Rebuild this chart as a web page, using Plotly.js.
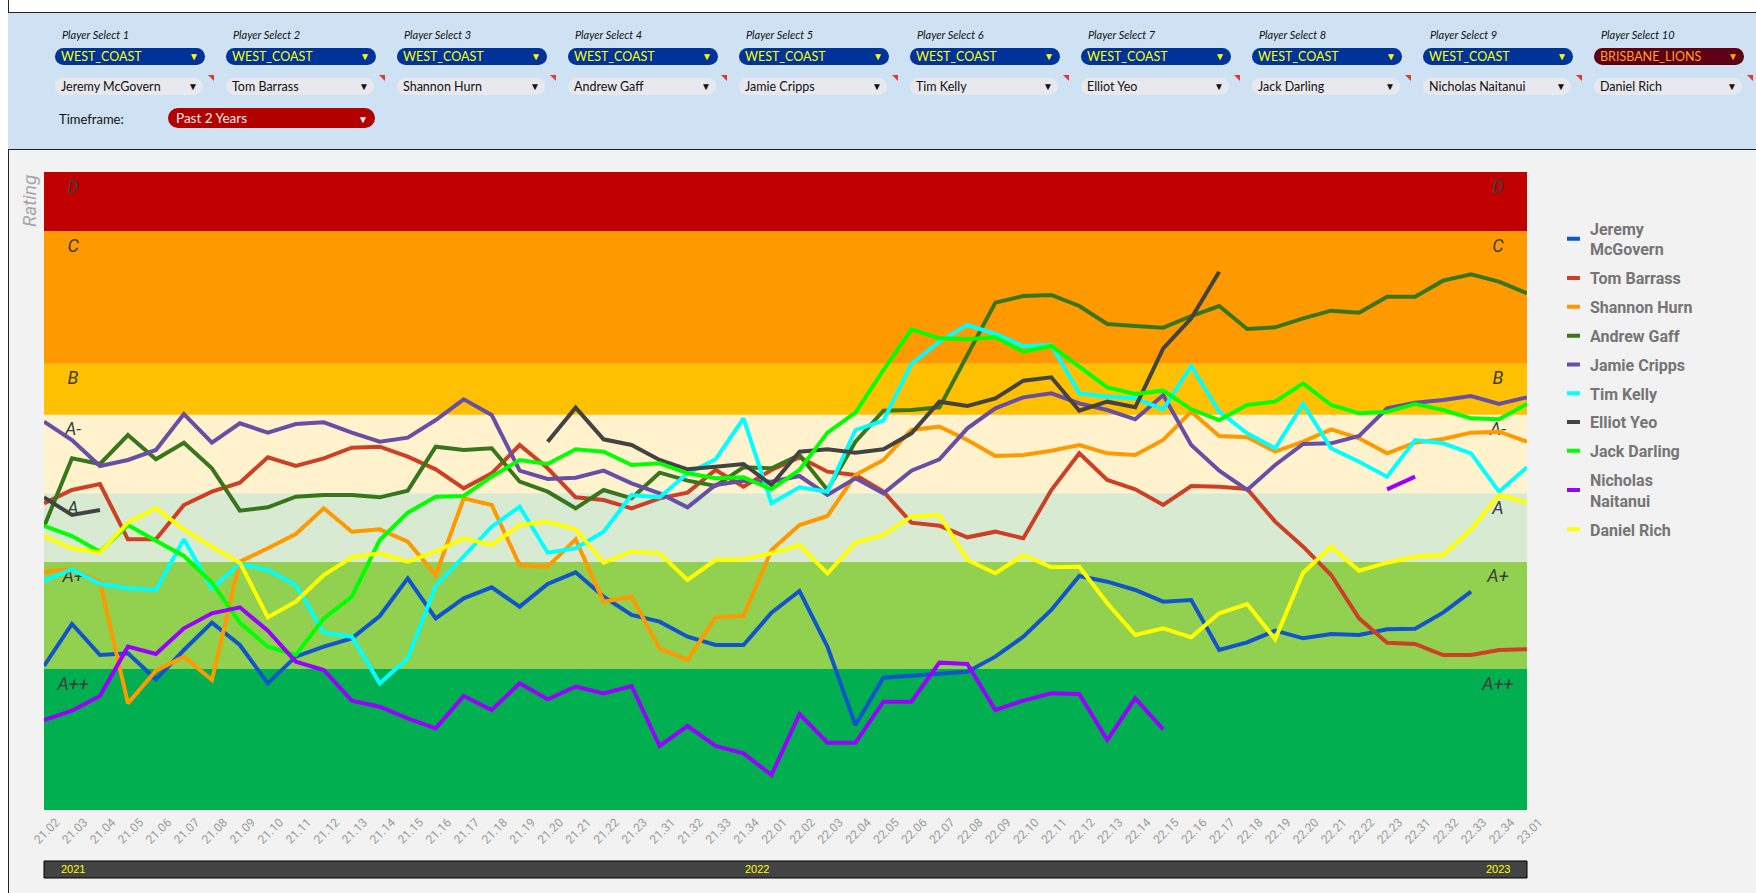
<!DOCTYPE html>
<html><head><meta charset="utf-8">
<script src="https://cdn.plot.ly/plotly-3.0.1.min.js"></script>
<style>
body{margin:0;width:1756px;height:893px;overflow:hidden;background:#f2f2f2;font-family:Lato,'Liberation Sans',sans-serif;position:relative;}
#chart{position:absolute;left:0;top:0;width:1756px;height:893px;}
#topstrip{position:absolute;left:0;top:0;width:1756px;height:12px;background:#fff;z-index:5}
#leftstrip{position:absolute;left:0;top:0;width:8px;height:893px;background:#fff;border-right:1px solid #222;z-index:5}
#panel{position:absolute;left:8px;top:12px;width:1748px;height:136px;background:#cfe2f3;border-top:1px solid #222;border-bottom:1px solid #222;z-index:6}
.ctl{position:absolute;z-index:7;white-space:nowrap;}
.lbl{font-style:italic;font-size:11px;color:#111;height:14px;line-height:14px;}
.pill{height:17px;line-height:17px;border-radius:9px;font-size:12.5px;box-sizing:border-box;padding-left:6px;}
.arr{position:absolute;top:0;font-size:10px;}
.flag{position:absolute;z-index:7;width:0;height:0;border-top:6px solid #e03a2f;border-left:6px solid transparent;}
</style></head>
<body>
<div id="chart"></div>
<div id="topstrip"></div>
<div id="leftstrip"></div>
<div id="panel"></div>
<script>
// ---- data ----
const categories = ["21.02","21.03","21.04","21.05","21.06","21.07","21.08","21.09","21.10","21.11","21.12","21.13","21.14","21.15","21.16","21.17","21.18","21.19","21.20","21.21","21.22","21.23","21.31","21.32","21.33","21.34","22.01","22.02","22.03","22.04","22.05","22.06","22.07","22.08","22.09","22.10","22.11","22.12","22.13","22.14","22.15","22.16","22.17","22.18","22.19","22.20","22.21","22.22","22.23","22.31","22.32","22.33","22.34","23.01"];

const jeremyMcGovern = [432,558,465,470,392,480,562,495,380,460, 490,515,582,695,575,635,668,610,678,713, 640,585,565,520,495,495,592,657,490,255, 397,402,410,415,460,520,600,702,685,660, 625,630,480,503,538,515,528,525,542,544, 592,655,null,null];
const tomBarrass = [920,960,978,812,812,915,955,982,1058,1032, 1055,1087,1090,1060,1022,965,1010,1095,1025,938, 930,905,935,952,1020,970,1020,1058,1015,1005, 955,862,853,818,835,815,960,1070,990,962, 915,972,970,963,865,790,705,575,502,498, 465,465,480,482];
const shannonHurn = [715,722,685,320,418,460,390,745,785,828, 905,835,842,805,705,935,915,735,730,812, 625,640,485,450,578,582,780,855,882,1005, 1050,1140,1150,1110,1062,1065,1078,1095,1070,1065, 1110,1195,1122,1118,1075,1105,1142,1115,1070,1102, 1113,1132,1135,1105];
const andrewGaff = [850,1055,1038,1125,1052,1102,1025,898,908,940, 945,945,938,958,1090,1080,1085,985,955,905, 960,935,1012,988,972,1028,1025,1065,960,1105, 1198,1200,1208,1367,1522,1542,1545,1512,1458,1452, 1447,1482,1512,1443,1448,1475,1498,1492,1540,1540, 1588,1607,1585,1550];
const jamieCripps = [1165,1110,1032,1050,1080,1188,1102,1160,1132,1158, 1163,1132,1105,1117,1170,1232,1185,1018,993,997, 1018,980,950,908,975,988,985,1002,945,995, 950,1018,1052,1145,1205,1238,1250,1220,1200,1172, 1245,1095,1018,960,1035,1098,1100,1122,1205,1222, 1230,1242,1218,1238];
const timKelly = [688,722,678,665,660,812,665,738,720,675, 532,520,380,455,672,760,850,910,772,785, 835,945,938,1010,1052,1175,920,968,955,1140, 1168,1338,1405,1455,1428,1392,1395,1250,1240,1235, 1202,1332,1195,1130,1085,1218,1085,1045,1000,1110, 1100,1070,955,1028];
const elliotYeo = [938,885,900,null,null,null,null,null,null,null, null,null,null,null,null,null,null,null,1105,1207, 1112,1095,1050,1022,1030,1038,975,1075,1082,1072, 1082,1130,1225,1212,1235,1288,1298,1198,1225,1208, 1385,1475,1615,null,null,null,null,null,null,null, null,null,null,null];
const jackDarling = [852,822,775,855,808,762,682,562,490,465, 575,640,810,892,940,942,1000,1050,1038,1082, 1075,1035,1040,1010,995,998,962,1020,1132,1192, 1320,1442,1415,1412,1418,1375,1392,1330,1268,1248, 1258,1202,1170,1215,1225,1280,1215,1190,1195,1218, 1200,1175,1172,1218];
const nicholasNaitanui = [270,298,342,490,468,545,590,608,538,445, 420,328,310,275,245,342,300,380,332,370, 350,372,192,252,192,170,105,288,202,202, 325,325,442,438,300,328,350,348,210,335, 242,null,null,null,null,null,null,null,962,1000, null,null,null,null];
const danielRich = [822,785,772,862,905,842,790,742,578,625, 705,758,770,745,775,815,795,855,865,842, 742,775,770,690,750,752,770,795,710,802, 825,880,885,750,710,765,728,730,620,525, 545,518,590,618,512,712,790,718,742,760, 765,842,945,922];

const seriesNames = ["Jeremy<br>McGovern","Tom Barrass","Shannon Hurn","Andrew Gaff","Jamie Cripps","Tim Kelly","Elliot Yeo","Jack Darling","Nicholas<br>Naitanui","Daniel Rich"];
const seriesValues = [jeremyMcGovern,tomBarrass,shannonHurn,andrewGaff,jamieCripps,timKelly,elliotYeo,jackDarling,nicholasNaitanui,danielRich];
const seriesColors = ["#1155cc","#cc4125","#ff9900","#38761d","#674ea7","#00ffff","#434343","#00ff00","#9900ff","#ffff00"];

const bandNames = ["A++","A+","A","A-","B","C","D"];
const bandLows  = [0,423,745,950,1186,1339,1737];
const bandHighs = [423,745,950,1186,1339,1737,1914];
const bandColors = ["#00b050","#92d050","#d9ead3","#fff2cc","#ffc000","#ff9900","#c00000"];

const yearLabels = ["2021","2022","2023"];

const teamSelects = ["WEST_COAST","WEST_COAST","WEST_COAST","WEST_COAST","WEST_COAST","WEST_COAST","WEST_COAST","WEST_COAST","WEST_COAST","BRISBANE_LIONS"];
const playerSelects = ["Jeremy McGovern","Tom Barrass","Shannon Hurn","Andrew Gaff","Jamie Cripps","Tim Kelly","Elliot Yeo","Jack Darling","Nicholas Naitanui","Daniel Rich"];
const timeframe = "Past 2 Years";

// ---- control panel (HTML) ----
function add(html){ const d=document.createElement('div'); d.innerHTML=html; document.body.appendChild(d.firstChild); }
for(let i=0;i<10;i++){
  const L = 55 + 171*i;
  add(`<div class="ctl lbl" style="left:${L+7}px;top:28px">Player Select ${i+1}</div>`);
  const brisbane = teamSelects[i]==="BRISBANE_LIONS";
  const bg = brisbane ? "#5e0015" : "#003399";
  const fg = brisbane ? "#ffa31a" : "#ffff00";
  add(`<div class="ctl pill" style="left:${L}px;top:48px;width:150px;background:${bg};color:${fg}">${teamSelects[i]}<span class="arr" style="left:134px;color:${fg}">&#9660;</span></div>`);
  add(`<div class="ctl pill" style="left:${L}px;top:78px;width:148px;background:#e8e9ee;color:#111">${playerSelects[i]}<span class="arr" style="left:133px;color:#111">&#9660;</span></div>`);
  add(`<div class="flag" style="left:${L+153}px;top:75px"></div>`);
}
add(`<div class="ctl" style="left:59px;top:111px;font-size:13px;color:#111;line-height:16px">Timeframe:</div>`);
add(`<div class="ctl pill" style="left:168px;top:108px;width:207px;height:20px;line-height:20px;border-radius:10px;background:#b00000;color:#fde8e8;font-size:13.5px;padding-left:8px">${timeframe}<span class="arr" style="left:190px;top:1px;color:#fde8e8">&#9660;</span></div>`);

// ---- chart ----
const traces = seriesValues.map((v,k)=>({
  type:'scatter', mode:'lines', x:categories, y:v, name:seriesNames[k],
  legendgroup:'g'+k, connectgaps:false,
  line:{color:seriesColors[k], width:4, shape:'linear'},
  hoverinfo:'x+y+name'
}));

const shapes = [];
bandNames.forEach((b,k)=>{
  shapes.push({type:'rect', layer:'below', xref:'paper', yref:'y', x0:0, x1:1, y0:bandLows[k], y1:bandHighs[k], fillcolor:bandColors[k], line:{width:0}});
});
const labelFont = {family:'Roboto, sans-serif', size:18, color:'#3d3d3d', style:'italic'};
bandNames.forEach((b,k)=>{
  [0.0196,0.9804].forEach(px=>{
    shapes.push({type:'rect', layer:'below', xref:'paper', yref:'y', x0:px-0.015, x1:px+0.015,
      y0:bandHighs[k]-54, y1:bandHighs[k]-24, fillcolor:'rgba(0,0,0,0)', line:{width:0},
      label:{text:b, textposition:'middle center', font:labelFont, padding:0}});
  });
});
shapes.push({type:'rect', layer:'above', xref:'paper', yref:'paper', x0:0, x1:1, y0:-0.0799, y1:-0.1066, fillcolor:'#434343', line:{color:'#000', width:1}});

const annotations = [
  {xref:'paper', yref:'paper', x:-0.0101, y:0.9545, xanchor:'center', yanchor:'middle', text:'Rating', textangle:-90, showarrow:false,
   font:{family:'Roboto, sans-serif', size:19, color:'#a6a6a6', style:'italic'}},
];
[0.0196,0.4808,0.9804].forEach((px,k)=>{
  annotations.push({xref:'paper', yref:'paper', x:px, y:-0.0932, xanchor:'center', yanchor:'middle', text:yearLabels[k], showarrow:false,
    font:{family:'Liberation Sans, Arial, sans-serif', size:11, color:'#ffff00'}});
});

const layout = {
  width:1756, height:893,
  margin:{l:44, r:229, t:172, b:83, pad:0},
  paper_bgcolor:'#f2f2f2', plot_bgcolor:'#f2f2f2',
  font:{family:'Roboto, sans-serif'},
  xaxis:{type:'category', tickangle:-45, tickfont:{family:'Roboto, sans-serif', size:12, color:'#9a9a9a'},
    ticklabelshift:12, ticklabelstandoff:2,
    showgrid:false, zeroline:false, showline:false, ticks:'', automargin:false, fixedrange:true},
  yaxis:{range:[0,1914], showgrid:false, zeroline:false, showline:false, showticklabels:false, ticks:'', automargin:false, fixedrange:true},
  showlegend:true,
  legend:{x:1.0155, y:0.938, xanchor:'left', yanchor:'top', bgcolor:'rgba(0,0,0,0)', borderwidth:0,
    itemwidth:30, tracegroupgap:5,
    font:{family:'Roboto, sans-serif', size:16, color:'#757575', weight:'bold'}},
  shapes:shapes, annotations:annotations
};

Plotly.newPlot('chart', traces, layout, {displayModeBar:false}).then(()=>{
  document.querySelectorAll('.legendlines path').forEach(p=>p.setAttribute('d','M17,0h13'));
});
</script>
</body></html>
